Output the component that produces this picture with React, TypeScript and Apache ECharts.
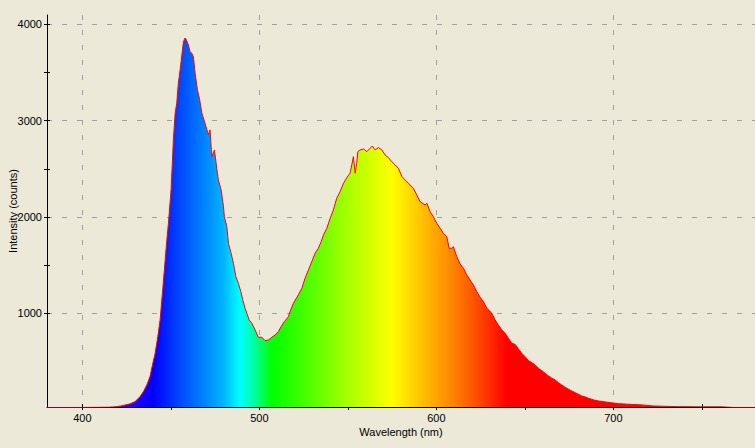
import React, { useEffect, useRef } from "react";
import * as echarts from "echarts";

// Wavelength (nm) and intensity (counts)
const wavelengths = [
  380, 400, 415, 419, 421.9, 427, 429.8, 432.6, 434.5, 436.4, 438.2, 439.8, 441.1, 442.6, 443.9,
  445.2, 446.3, 447.7, 448.6, 449.5, 450.1, 450.8, 451.4, 452.4, 453.3, 454.2, 455.2, 456.2, 457.1,
  458.0, 458.6, 459.9, 460.8, 461.8, 462.7, 463.7, 465, 466.1, 467.5, 469.3, 471.2, 472.1, 473.1,
  474.6, 475.9, 476.8, 478.4, 479.7, 480.2, 481.6, 482.5, 484, 485.3, 486.7, 488.1, 489.5, 490.6,
  491.9, 492.9, 494.2, 495.7, 497.6, 499.4, 501.4, 503.2, 505.1, 507, 508.9, 510.7, 512.3, 514.1,
  516.4, 517.3, 519.2, 522, 524, 525.8, 527.7, 529.6, 531.5, 533.3, 534.9, 536.2, 538.1, 540,
  541.8, 543.7, 545.6, 547.5, 549.4, 551.2, 552.2, 553.1, 554.1, 555, 555.6, 556.9, 558.8, 560.7,
  562.5, 563.8, 565.4, 567.2, 569.2, 571, 572.9, 574.8, 576.7, 578.5, 580.5, 582.3, 584.2, 587,
  588.9, 590.8, 593.6, 594.6, 596.4, 598.3, 600.2, 602.1, 603.9, 605.9, 607.2, 608.7, 609.6, 611.5,
  613.4, 615.3, 617.2, 619, 620.9, 622.8, 624.7, 626.6, 628.5, 631.3, 633.2, 635, 637, 638.8,
  640.7, 642.6, 644.5, 646.3, 648.2, 650.1, 652, 653.9, 655.8, 657.6, 659.5, 661.4, 663.3, 665.2,
  667.1, 668.9, 670.8, 672.7, 674.6, 676.5, 678.4, 680.2, 682.1, 684, 685.9, 688.7, 691.5, 695.3,
  699.1, 702.8, 708.5, 716, 722.4, 735.8, 748, 761, 770, 780,
];
const intensity = [
  20, 22, 25, 30, 38, 60, 83, 135, 187, 256, 343, 482, 585, 758, 931,
  1208, 1450, 1762, 1935, 2143, 2281, 2558, 2800, 3077, 3181, 3388, 3527, 3682, 3820,
  3858, 3845, 3786, 3716, 3700, 3665, 3492, 3319, 3233, 3077, 2973, 2852, 2904, 2626,
  2696, 2506, 2385, 2281, 2107, 2003, 1900, 1727, 1624, 1520, 1381, 1312, 1225, 1139,
  1053, 1001, 931, 897, 827, 751, 751, 716, 723, 751, 775, 810, 862, 914,
  965, 1017, 1104, 1191, 1260, 1364, 1450, 1537, 1624, 1675, 1744, 1814, 1883, 1987,
  2073, 2195, 2263, 2350, 2408, 2454, 2540, 2626, 2454, 2558, 2678, 2696, 2706, 2678,
  2713, 2737, 2696, 2720, 2696, 2644, 2616, 2574, 2540, 2506, 2420, 2385, 2350, 2298,
  2229, 2159, 2125, 2143, 2056, 2003, 1935, 1883, 1831, 1796, 1675, 1675, 1692, 1588,
  1512, 1468, 1398, 1346, 1294, 1225, 1167, 1121, 1053, 1001, 931, 879, 827, 793,
  741, 689, 677, 632, 585, 550, 509, 488, 464, 430, 405, 378, 350, 326,
  308, 280, 256, 232, 212, 194, 176, 160, 142, 132, 118, 101, 90, 80,
  70, 62, 56, 49, 38, 31, 29, 29, 20, 20,
];

const xMin = 380;
const xMax = 780;
const yMin = 27;
const yMax = 4097;
const xLabels = [400, 500, 600, 700];
const xTicks = [400, 450, 500, 550, 600, 650, 700, 750];
const yLabels = [1000, 2000, 3000, 4000];
const yTicks = [1000, 1500, 2000, 2500, 3000, 3500, 4000];

// wavelength -> colour stops for the spectral fill
const spectrumStops: [number, string][] = [
  [380, "#7a00ff"],
  [420, "#4000ff"],
  [440, "#0000ff"],
  [455, "#0048ff"],
  [470, "#0088ff"],
  [480, "#00b8ff"],
  [489, "#00ffff"],
  [497, "#00ffa0"],
  [507, "#00ff00"],
  [520, "#30ff00"],
  [548, "#a0ff00"],
  [575, "#ffff00"],
  [592, "#ffc000"],
  [607, "#ff8c00"],
  [622, "#ff5000"],
  [640, "#ff0000"],
  [780, "#ff0000"],
];

const FONT = "Liberation Sans, Arial, sans-serif";

export default function App() {
  const ref = useRef<HTMLDivElement>(null);
  useEffect(() => {
    if (!ref.current) return;
    const chart = echarts.init(ref.current, undefined, { renderer: "svg" });
    const data = wavelengths.map((w, i) => [w, intensity[i]]);
    const grad = new echarts.graphic.LinearGradient(
      0, 0, 1, 0,
      spectrumStops.map(([w, c]) => ({ offset: (w - xMin) / (xMax - xMin), color: c }))
    );
    const fmt = (v: number) => String(v);
    const baseX = {
      type: "value" as const,
      min: xMin,
      max: xMax,
      position: "bottom" as const,
      offset: 0,
    };
    const baseY = {
      type: "value" as const,
      min: yMin,
      max: yMax,
      position: "left" as const,
      offset: 0,
    };
    chart.setOption({
      animation: false,
      backgroundColor: "#ECE9D8",
      grid: { left: 47, right: 0, top: 15, bottom: 41, containLabel: false, outerBoundsMode: "none" },
      xAxis: [
        {
          ...baseX,
          name: "Wavelength (nm)",
          nameLocation: "middle",
          nameGap: 19,
          nameMoveOverlap: false,
          nameTextStyle: { color: "#000", fontSize: 11, fontFamily: FONT },
          axisLine: { show: true, onZero: false, lineStyle: { color: "#000", width: 1 } },
          axisTick: { show: true, inside: false, length: 3, customValues: xTicks, lineStyle: { color: "#000" } },
          axisLabel: { show: true, customValues: xLabels, formatter: fmt, margin: 5, color: "#000", fontSize: 11, fontFamily: FONT },
          splitLine: { show: false },
        },
        {
          ...baseX,
          axisLine: { show: false, onZero: false },
          axisTick: { show: true, inside: true, length: 3, customValues: xTicks, lineStyle: { color: "#000" } },
          axisLabel: { show: false },
          splitLine: { show: false },
        },
        {
          ...baseX,
          axisLine: { show: false, onZero: false },
          axisTick: { show: false, customValues: xLabels },
          axisLabel: { show: false },
          splitLine: { show: true, lineStyle: { color: "#a0a0a0", type: [5, 10], width: 1 } },
        },
      ],
      yAxis: [
        {
          ...baseY,
          name: "Intensity (counts)",
          nameLocation: "middle",
          nameGap: 29,
          nameMoveOverlap: false,
          nameTextStyle: { color: "#000", fontSize: 11, fontFamily: FONT },
          axisLine: { show: true, onZero: false, lineStyle: { color: "#000", width: 1 } },
          axisTick: { show: true, inside: false, length: 3, customValues: yTicks, lineStyle: { color: "#000" } },
          axisLabel: { show: true, customValues: yLabels, formatter: fmt, margin: 5, color: "#000", fontSize: 11, fontFamily: FONT },
          splitLine: { show: false },
        },
        {
          ...baseY,
          axisLine: { show: false, onZero: false },
          axisTick: { show: true, inside: true, length: 3, customValues: yTicks, lineStyle: { color: "#000" } },
          axisLabel: { show: false },
          splitLine: { show: false },
        },
        {
          ...baseY,
          axisLine: { show: false, onZero: false },
          axisTick: { show: false, customValues: yLabels },
          axisLabel: { show: false },
          splitLine: { show: true, lineStyle: { color: "#a0a0a0", type: [5, 10], width: 1 } },
        },
      ],
      series: [
        {
          type: "line",
          xAxisIndex: 0,
          yAxisIndex: 0,
          data,
          showSymbol: false,
          symbol: "none",
          clip: true,
          z: 3,
          lineStyle: { color: "#ff0000", width: 1 },
          areaStyle: { color: grad, opacity: 1, origin: "start" },
        },
      ],
    });
    return () => chart.dispose();
  }, []);
  return (
    <div
      ref={ref}
      style={{ position: "absolute", left: 0, top: 0, width: 755, height: 448 }}
    />
  );
}
